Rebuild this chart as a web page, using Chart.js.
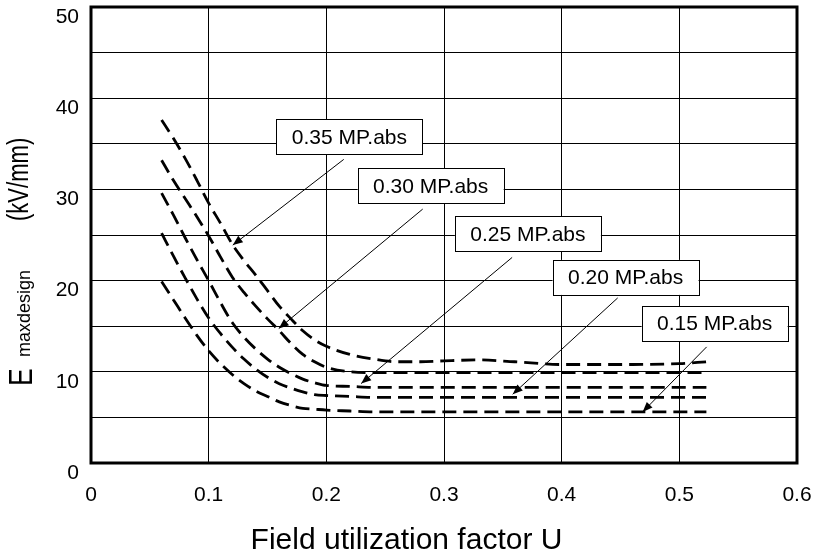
<!DOCTYPE html>
<html>
<head>
<meta charset="utf-8">
<script src="https://cdn.jsdelivr.net/npm/chart.js@4/dist/chart.umd.min.js"></script>
<style>
  html, body { margin: 0; padding: 0; background: #fff; }
  #wrap { width: 813px; height: 553px; }
</style>
</head>
<body>
<div id="wrap"><canvas id="c" width="813" height="553"></canvas></div>
<script>
// ---- data ----
const U = [0.06,0.07,0.08,0.09,0.10,0.11,0.12,0.13,0.14,0.15,0.16,0.17,0.18,0.19,0.20,0.22,0.24,0.26,0.28,0.30,0.33,0.36,0.40,0.45,0.50,0.523];
const E_035 = [37.6,35.6,33.4,31.0,28.5,26.3,24.0,22.2,20.6,18.9,17.2,15.8,14.5,13.5,12.8,11.9,11.4,11.1,11.1,11.2,11.3,11.1,10.8,10.8,10.9,11.1];
const E_030 = [33.2,31.0,29.0,27.0,24.9,22.6,20.4,18.7,17.2,15.8,14.5,13.1,11.9,11.1,10.5,10.0,9.9,9.9,9.9,9.9,9.9,9.9,9.9,9.9,9.9,9.9];
const E_025 = [29.6,27.2,24.7,22.3,20.0,17.6,15.4,13.8,12.5,11.4,10.5,9.8,9.2,8.8,8.5,8.4,8.3,8.3,8.3,8.3,8.3,8.3,8.3,8.3,8.3,8.3];
const E_020 = [25.2,22.7,20.3,18.0,15.9,14.2,12.7,11.4,10.3,9.4,8.7,8.2,7.8,7.5,7.4,7.3,7.2,7.2,7.2,7.2,7.2,7.2,7.2,7.2,7.2,7.2];
const E_015 = [19.9,17.9,15.9,14.0,12.3,10.9,9.7,8.7,7.9,7.3,6.7,6.3,6.0,5.9,5.8,5.7,5.6,5.6,5.6,5.6,5.6,5.6,5.6,5.6,5.6,5.6];

const seriesLabels = ['0.35 MP.abs','0.30 MP.abs','0.25 MP.abs','0.20 MP.abs','0.15 MP.abs'];
// annotation boxes (centre) and arrows, in data units (U, E)
const boxU  = [0.2196,0.2887,0.3713,0.4543,0.5300];
const boxE  = [35.76,30.38,25.11,20.35,15.28];
const tailU = [0.2148,0.2819,0.3579,0.4476,0.5232];
const tailE = [33.29,27.84,22.54,18.10,12.73];
const tipU  = [0.1205,0.1596,0.2296,0.3584,0.4688];
const tipE  = [23.89,14.75,8.71,7.54,5.60];

const xTitle = 'Field utilization factor U';
const yTitleMain = 'E';
const yTitleSub = 'maxdesign';
const yTitleUnit = '(kV/mm)';

const FONT = '"Liberation Sans", Arial, sans-serif';
const seriesList = [E_035, E_030, E_025, E_020, E_015];

const datasets = seriesList.map((arr, i) => ({
  label: seriesLabels[i],
  data: U.map((u, k) => ({ x: u, y: arr[k] })),
  borderColor: '#000',
  borderWidth: 2.8,
  borderDash: [14, 7],
  pointRadius: 0,
  fill: false,
  cubicInterpolationMode: 'monotone'
}));

const decor = {
  id: 'decor',
  beforeDraw(chart) {
    const ctx = chart.ctx;
    ctx.save();
    ctx.fillStyle = '#fff';
    ctx.fillRect(0, 0, chart.width, chart.height);
    ctx.restore();
  },
  afterDatasetsDraw(chart) {
    const ctx = chart.ctx;
    const xs = chart.scales.x, ys = chart.scales.y;
    const a = chart.chartArea;
    ctx.save();
    // frame
    ctx.strokeStyle = '#000';
    ctx.lineWidth = 3;
    ctx.strokeRect(a.left, a.top, a.right - a.left, a.bottom - a.top);
    // arrows
    for (let i = 0; i < seriesLabels.length; i++) {
      const x1 = xs.getPixelForValue(tailU[i]), y1 = ys.getPixelForValue(tailE[i]);
      const x2 = xs.getPixelForValue(tipU[i]),  y2 = ys.getPixelForValue(tipE[i]);
      ctx.strokeStyle = '#000';
      ctx.lineWidth = 1;
      ctx.beginPath(); ctx.moveTo(x1, y1); ctx.lineTo(x2, y2); ctx.stroke();
      const ang = Math.atan2(y2 - y1, x2 - x1);
      const L = 10, W = 4;
      ctx.fillStyle = '#000';
      ctx.beginPath();
      ctx.moveTo(x2, y2);
      ctx.lineTo(x2 - L * Math.cos(ang) + W * Math.sin(ang), y2 - L * Math.sin(ang) - W * Math.cos(ang));
      ctx.lineTo(x2 - L * Math.cos(ang) - W * Math.sin(ang), y2 - L * Math.sin(ang) + W * Math.cos(ang));
      ctx.closePath();
      ctx.fill();
    }
    // boxes
    const bw = 146, bh = 35;
    ctx.font = '21px ' + FONT;
    ctx.textAlign = 'center';
    ctx.textBaseline = 'middle';
    for (let i = 0; i < seriesLabels.length; i++) {
      const cx = xs.getPixelForValue(boxU[i]), cy = ys.getPixelForValue(boxE[i]);
      ctx.fillStyle = '#fff';
      ctx.fillRect(cx - bw / 2, cy - bh / 2, bw, bh);
      ctx.strokeStyle = '#000';
      ctx.lineWidth = 1;
      ctx.strokeRect(Math.round(cx - bw / 2) + 0.5, Math.round(cy - bh / 2) + 0.5, bw, bh);
      ctx.fillStyle = '#000';
      ctx.fillText(seriesLabels[i], cx, cy + 1);
    }
    ctx.restore();
  },
  afterDraw(chart) {
    const ctx = chart.ctx;
    ctx.save();
    ctx.fillStyle = '#000';
    ctx.textAlign = 'center';
    ctx.textBaseline = 'alphabetic';
    ctx.font = '30px ' + FONT;
    ctx.fillText(xTitle, chart.width / 2, 549);
    // y title, rotated
    ctx.textAlign = 'left';
    const drawRot = (txt, font, x, y, sx) => {
      ctx.save();
      ctx.translate(x, y);
      ctx.rotate(-Math.PI / 2);
      ctx.scale(sx, 1);
      ctx.font = font;
      ctx.fillText(txt, 0, 0);
      ctx.restore();
    };
    drawRot(yTitleMain, '34px ' + FONT, 32, 386, 0.78);
    drawRot(yTitleSub, '18px ' + FONT, 30, 357, 1.0);
    drawRot(yTitleUnit, '29px ' + FONT, 28, 221, 0.76);
    ctx.restore();
  }
};

new Chart(document.getElementById('c'), {
  type: 'line',
  data: { datasets },
  options: {
    responsive: false,
    animation: false,
    devicePixelRatio: 1,
    layout: { padding: { top: 7, right: 16, left: 0, bottom: 0 } },
    plugins: { legend: { display: false }, tooltip: { enabled: false } },
    scales: {
      x: {
        type: 'linear', min: 0, max: 0.6,
        border: { display: false },
        grid: { color: '#000', lineWidth: 1, drawTicks: false },
        ticks: {
          stepSize: 0.1, padding: 20, color: '#000',
          font: { family: FONT, size: 21 },
          callback: v => String(parseFloat(Number(v).toFixed(1)))
        },
        afterFit: s => { s.height = 90; s.paddingLeft = 0; s.paddingRight = 0; }
      },
      y: {
        type: 'linear', min: 0, max: 50,
        border: { display: false },
        grid: { color: '#000', lineWidth: 1, drawTicks: false },
        ticks: {
          stepSize: 5, padding: 12, color: '#000', labelOffset: 10,
          font: { family: FONT, size: 21 },
          callback: v => (Math.round(v) % 10 === 0 ? String(Math.round(v)) : '')
        },
        afterFit: s => { s.width = 91; s.paddingTop = 0; s.paddingBottom = 0; }
      }
    }
  },
  plugins: [decor]
});
</script>
</body>
</html>
